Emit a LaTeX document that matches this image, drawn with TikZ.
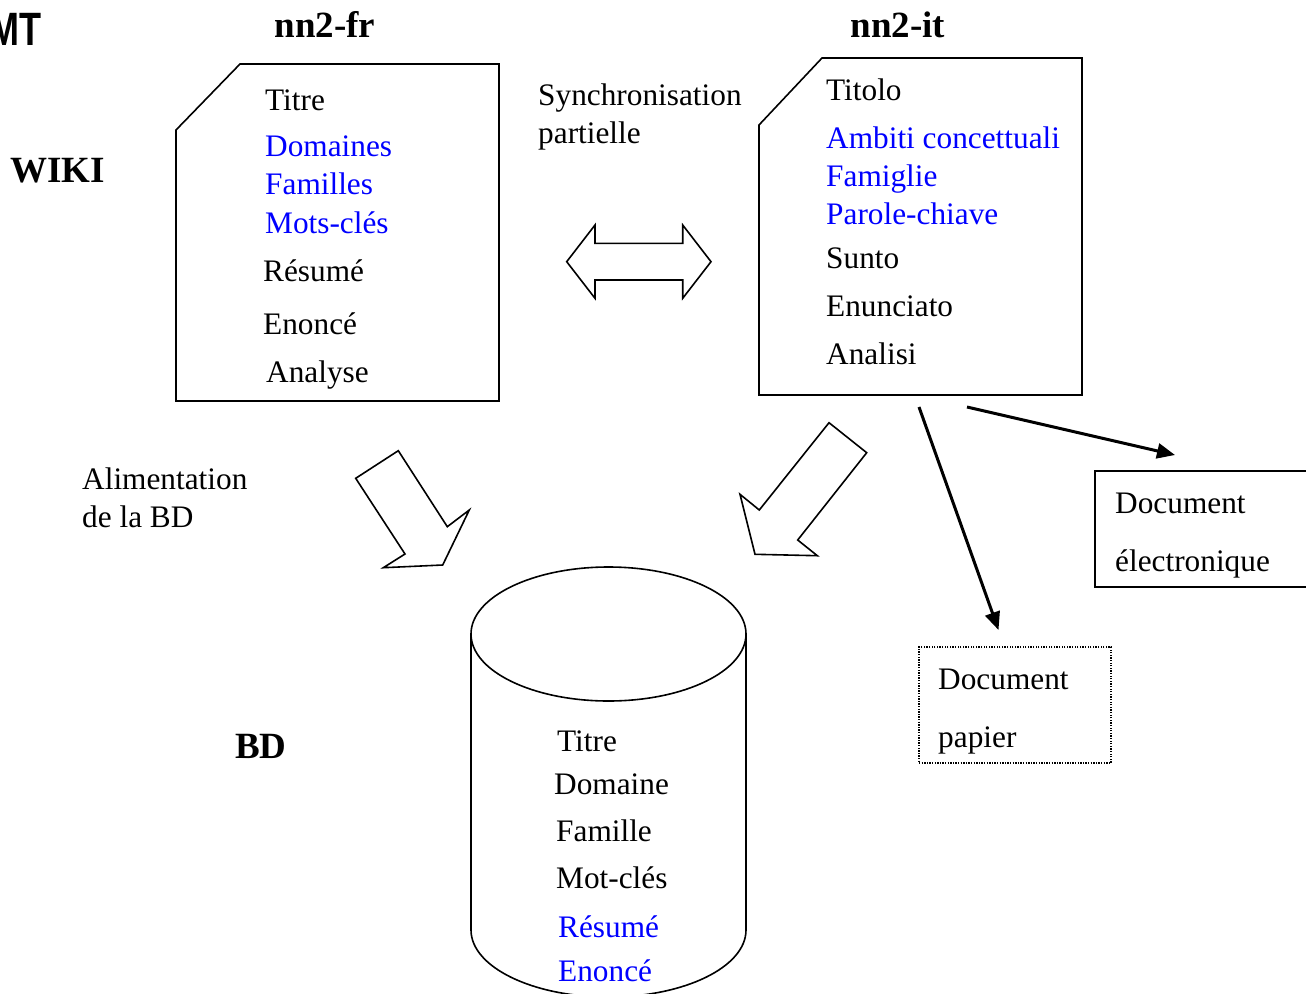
\documentclass[tikz,border=0pt]{standalone}
\usepackage{fontspec}
\setmainfont{Liberation Serif}
\setsansfont{Liberation Sans}
\usetikzlibrary{arrows.meta}
\definecolor{dblue}{RGB}{0,0,255}
\begin{document}
\begin{tikzpicture}[x=1pt,y=-1pt,
  txt/.style={anchor=base west, inner sep=0pt, font=\fontsize{31.3}{37}\selectfont},
  blu/.style={txt, text=dblue},
  lbl/.style={anchor=base, inner sep=0pt, font=\fontsize{37}{44}\selectfont\bfseries},
  lblw/.style={anchor=base west, inner sep=0pt, font=\fontsize{37}{44}\selectfont\bfseries},
  outline/.style={draw=black, line width=1.6pt, line join=miter},
  conn/.style={draw=black, line width=3pt, -{Triangle[length=18pt,width=15pt]}},
  boxsolid/.style={draw=black, line width=1.6pt, minimum width=225pt, minimum height=116pt, inner sep=0pt},
  boxdot/.style={draw=black, line width=1.6pt, dash pattern=on 1.3pt off 1.3pt, minimum width=192pt, minimum height=116pt, inner sep=0pt}
]
\useasboundingbox (0,0) rectangle (1306,993);

% MT (cut off)
\node[anchor=base east, inner sep=0pt, font=\fontsize{36}{40}\selectfont\sffamily\bfseries] (mt) at (42,45) {\scalebox{1}[1.3]{MT}};

% titles
\node[lbl] (nnfr) at (325,37) {nn2-fr};
\node[lbl] (nnit) at (898,37) {nn2-it};
\node[lblw] (wiki) at (10,182) {WIKI};
\node[lblw] (bd) at (235,758) {BD};

% left document
\draw[outline] (176,130) -- (240,64) -- (499,64) -- (499,401) -- (176,401) -- cycle;
\node[txt] (fr1) at (265,110) {Titre};
\node[blu] (fr2) at (265,156) {Domaines};
\node[blu] (fr3) at (265,194) {Familles};
\node[blu] (fr4) at (265,233) {Mots-clés};
\node[txt] (fr5) at (263,281) {Résumé};
\node[txt] (fr6) at (263,334) {Enoncé};
\node[txt] (fr7) at (266,382) {Analyse};

% right document
\draw[outline] (759,125) -- (822,58) -- (1082,58) -- (1082,395) -- (759,395) -- cycle;
\node[txt] (it1) at (826,100) {Titolo};
\node[blu] (it2) at (826,148) {Ambiti concettuali};
\node[blu] (it3) at (826,186) {Famiglie};
\node[blu] (it4) at (826,224) {Parole-chiave};
\node[txt] (it5) at (826,268) {Sunto};
\node[txt] (it6) at (826,316) {Enunciato};
\node[txt] (it7) at (826,364) {Analisi};

% synchronisation
\node[txt] (sync1) at (538,105) {Synchronisation};
\node[txt] (sync2) at (538,143) {partielle};
\draw[outline] (566.7,261.7) -- (595,225) -- (595,243.3) -- (682.7,243.3) -- (682.7,225) -- (711,261.7)
  -- (682.7,298.3) -- (682.7,280) -- (595,280) -- (595,298.3) -- cycle;

% block arrows
\draw[outline] (355.7,478.3) -- (398.3,450.7) -- (447.3,526.7) -- (469.3,510) -- (442.7,565)
  -- (383.3,567.7) -- (405,554) -- cycle;
\draw[outline] (829,422.7) -- (866.7,452.7) -- (797.7,540) -- (817.3,555.7) -- (755,554.3)
  -- (740,494.3) -- (759.3,510) -- cycle;

\node[txt] (alim1) at (82,489) {Alimentation};
\node[txt] (alim2) at (82,527) {de la BD};

% output documents
\node[boxsolid] (elec) at (1207.5,529) {};
\node[txt] (elec1) at (1115,513) {Document};
\node[txt] (elec2) at (1115,571) {électronique};
\node[boxdot] (papier) at (1015,705) {};
\node[txt] (pap1) at (938,689) {Document};
\node[txt] (pap2) at (938,747) {papier};

\coordinate (itA) at (919,407);
\coordinate (itB) at (967,407);
\coordinate (papIn) at (998.5,630);
\coordinate (elecIn) at (1175,455);
\draw[conn] (itA) -- (papIn);
\draw[conn] (itB) -- (elecIn);

% cylinder
\draw[outline] (608.5,634) ellipse [x radius=137.5, y radius=67];
\draw[outline] (471,634) -- (471,930) arc[start angle=180, end angle=0, x radius=137.5, y radius=67] -- (746,634);
\node[txt] (bd1) at (557,751) {Titre};
\node[txt] (bd2) at (554,794) {Domaine};
\node[txt] (bd3) at (556,841) {Famille};
\node[txt] (bd4) at (556,888) {Mot-clés};
\node[blu] (bd5) at (558,937) {Résumé};
\node[blu] (bd6) at (558,981) {Enoncé};
\end{tikzpicture}
\end{document}
